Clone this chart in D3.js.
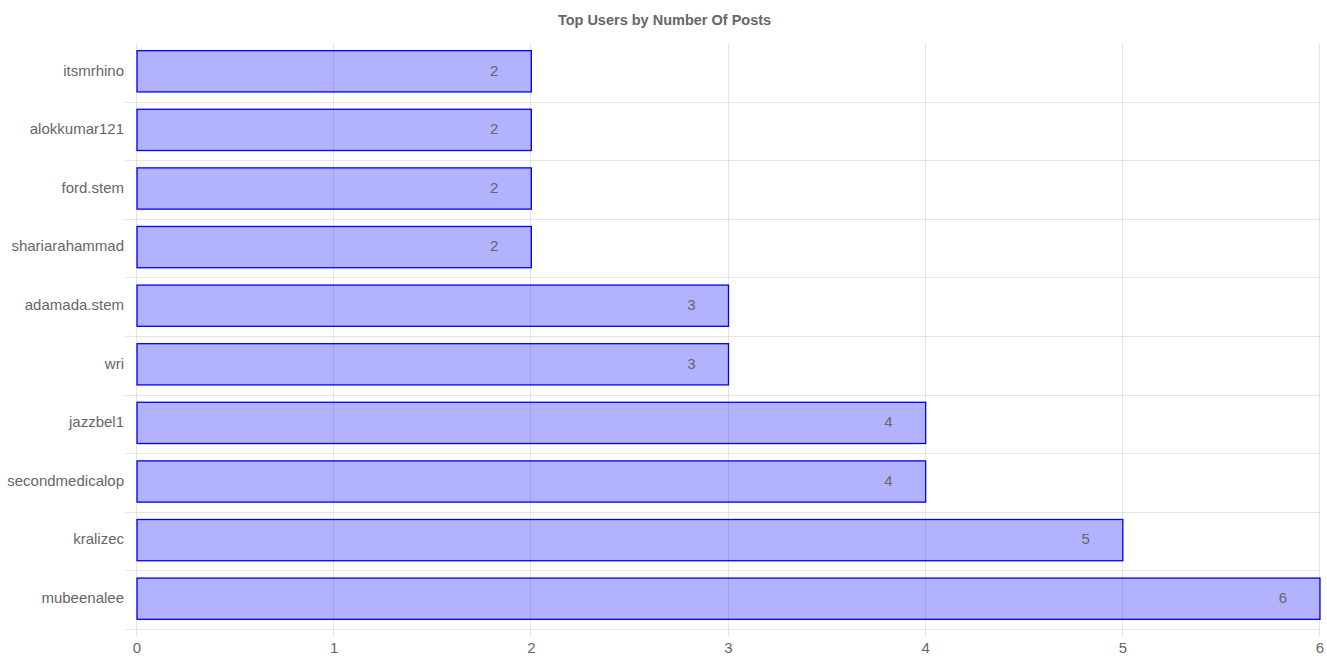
<!DOCTYPE html>
<html>
<head>
<meta charset="utf-8">
<script src="https://cdn.jsdelivr.net/npm/d3@7"></script>
<style>
  body { margin: 0; background: #fff; }
  svg { display: block; font-family: "Liberation Sans", Arial, Helvetica, sans-serif; }
</style>
</head>
<body>
<svg width="1327" height="663"></svg>
<script>
var users = ["itsmrhino", "alokkumar121", "ford.stem", "shariarahammad", "adamada.stem",
    "wri", "jazzbel1", "secondmedicalop", "kralizec", "mubeenalee"];
var posts = [2, 2, 2, 2, 3, 3, 4, 4, 5, 6];
var xTicks = [0, 1, 2, 3, 4, 5, 6];
var title = "Top Users by Number Of Posts";

var svg = d3.select("svg");
var plotLeft = 137, plotRight = 1320, plotTop = 43, plotBottom = 629;

var x = d3.scaleLinear().domain([0, 6]).range([plotLeft, plotRight]);
var y = d3.scaleBand().domain(users).range([plotTop, plotBottom]).paddingInner(0).paddingOuter(0);

var gridColor = "rgba(0,0,0,0.1)";

// vertical grid lines
svg.append("g")
    .selectAll("line")
    .data(xTicks)
    .enter()
    .append("line")
    .attr("x1", (d) => Math.round(x(d)) - 0.5)
    .attr("x2", (d) => Math.round(x(d)) - 0.5)
    .attr("y1", plotTop)
    .attr("y2", plotBottom + 8)
    .attr("stroke", gridColor)
    .attr("stroke-width", 1);

// horizontal grid lines at category boundaries
var bounds = users.map((u) => y(u) + y.bandwidth());
svg.append("g")
    .selectAll("line")
    .data(bounds)
    .enter()
    .append("line")
    .attr("x1", plotLeft - 12)
    .attr("x2", plotRight)
    .attr("y1", (d) => Math.round(d) + 0.5)
    .attr("y2", (d) => Math.round(d) + 0.5)
    .attr("stroke", gridColor)
    .attr("stroke-width", 1);

// bars
var barH = y.bandwidth() * 0.8 * 0.88;
svg.append("g")
    .selectAll("rect")
    .data(posts)
    .enter()
    .append("rect")
    .attr("x", x(0))
    .attr("y", (d, i) => y(users[i]) + (y.bandwidth() - barH) / 2 - 1)
    .attr("width", (d) => x(d) - x(0))
    .attr("height", barH)
    .attr("fill", "rgba(0,0,255,0.3)")
    .attr("stroke", "#0000ff")
    .attr("stroke-width", 1.3);

// value labels
svg.append("g")
    .selectAll("text")
    .data(posts)
    .enter()
    .append("text")
    .attr("x", (d) => x(d) - 33)
    .attr("y", (d, i) => y(users[i]) + y.bandwidth() / 2 - 2)
    .attr("dy", "0.35em")
    .attr("text-anchor", "end")
    .attr("fill", "#666")
    .style("font-size", "15px")
    .text((d) => d);

// y labels
svg.append("g")
    .selectAll("text")
    .data(users)
    .enter()
    .append("text")
    .attr("x", plotLeft - 13)
    .attr("y", (d) => y(d) + y.bandwidth() / 2 - 2)
    .attr("dy", "0.35em")
    .attr("text-anchor", "end")
    .attr("fill", "#666")
    .style("font-size", "15px")
    .text((d) => d);

// x tick labels
svg.append("g")
    .selectAll("text")
    .data(xTicks)
    .enter()
    .append("text")
    .attr("x", (d) => x(d))
    .attr("y", plotBottom + 19)
    .attr("dy", "0.35em")
    .attr("text-anchor", "middle")
    .attr("fill", "#666")
    .style("font-size", "15px")
    .text((d) => d);

svg.append("text")
    .attr("x", (plotLeft + plotRight) / 2 - 64)
    .attr("y", 20)
    .attr("dy", "0.35em")
    .attr("text-anchor", "middle")
    .attr("fill", "#666")
    .style("font-size", "14.5px")
    .style("font-weight", "bold")
    .text(title);
</script>
</body>
</html>
